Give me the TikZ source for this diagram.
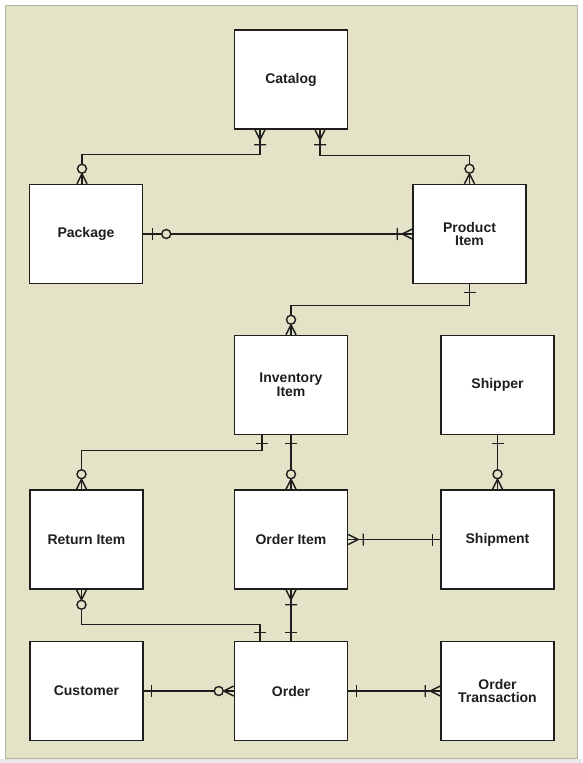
\documentclass[tikz,border=0pt]{standalone}
\usepackage{fontspec}
\setmainfont{Liberation Sans}
\usetikzlibrary{positioning}
\definecolor{khaki}{HTML}{E4E3C8}
\definecolor{framegray}{HTML}{B4B3A2}
\definecolor{stripgray}{HTML}{E8E8E8}
\definecolor{ink}{HTML}{1E1E1E}

\begin{document}
\begin{tikzpicture}[
  x=1pt, y=1pt,
  font=\fontsize{14}{12.5}\selectfont\bfseries,
  entity/.style={draw=ink, fill=white, line width=1.5pt, minimum width=113pt, minimum height=99pt, inner sep=0pt, align=center, text=ink},
  rel/.style={draw=ink, line width=1.4pt},
  % relationship ends, drawn with the box edge at the origin and the line coming in along +x
  endone/.pic={\draw[rel] (-8,-6) -- (-8,6);},
  endzeroone/.pic={\draw[rel] (-9,-6) -- (-9,6); \draw[rel, fill=khaki] (-23,0) circle (4.5pt);},
  endonemany/.pic={\draw[rel] (-10,0) -- (0,5) (-10,0) -- (0,-5) (-15,-6) -- (-15,6);},
  endzeromany/.pic={\draw[rel] (-10,0) -- (0,5) (-10,0) -- (0,-5); \draw[rel, fill=khaki] (-15,0) circle (4.5pt);},
]

\useasboundingbox (0,0) rectangle (582,-763);
\fill[white] (0,0) rectangle (582,-763);
\fill[stripgray] (0,-759) rectangle (582,-763);
\draw[framegray, fill=khaki, line width=0.8pt] (5,-5) rectangle (577,-758);

\node[entity] (catalog) at (291,-79.5) {Catalog};
\node[entity, below left=54pt and 90.5pt of catalog] (package) {Package};
\node[entity, below right=54pt and 64pt of catalog] (product) {Product\\Item};
\node[entity, below=205pt of catalog] (inventory) {Inventory\\Item};
\node[entity, right=92pt of inventory] (shipper) {Shipper};
\node[entity, below=54pt of inventory] (orderitem) {Order Item};
\node[entity, left=90pt of orderitem] (returnitem) {Return Item};
\node[entity, right=92pt of orderitem] (shipment) {Shipment};
\node[entity, below=51pt of orderitem] (order) {Order};
\node[entity, left=90pt of order] (customer) {Customer};
\node[entity, right=92pt of order] (transaction) {Order\\Transaction};

% catalog
\draw[rel] ([xshift=-31pt]catalog.south) -- ++(0,-25) -| ([xshift=-4pt]package.north);
\pic[rotate=90] at ([xshift=-31pt]catalog.south) {endonemany};
\pic[rotate=-90] at ([xshift=-4pt]package.north) {endzeromany};
\draw[rel] ([xshift=29pt]catalog.south) -- ++(0,-26) -| (product.north);
\pic[rotate=90] at ([xshift=29pt]catalog.south) {endonemany};
\pic[rotate=-90] at (product.north) {endzeromany};

% package / product
\draw[rel] (package.east) -- (product.west);
\pic[rotate=180] at (package.east) {endzeroone};
\pic at (product.west) {endonemany};
\draw[rel] (product.south) -- ++(0,-21) -| (inventory.north);
\pic[rotate=90] at (product.south) {endone};
\pic[rotate=-90] at (inventory.north) {endzeromany};

% inventory
\draw[rel] ([xshift=-29pt]inventory.south) -- ++(0,-15) -| ([xshift=-5pt]returnitem.north);
\pic[rotate=90] at ([xshift=-29pt]inventory.south) {endone};
\pic[rotate=-90] at ([xshift=-5pt]returnitem.north) {endzeromany};
\draw[rel] (inventory.south) -- (orderitem.north);
\pic[rotate=90] at (inventory.south) {endone};
\pic[rotate=-90] at (orderitem.north) {endzeromany};
\draw[rel] (shipper.south) -- (shipment.north);
\pic[rotate=90] at (shipper.south) {endone};
\pic[rotate=-90] at (shipment.north) {endzeromany};

% order item
\draw[rel] (orderitem.east) -- (shipment.west);
\pic[rotate=180] at (orderitem.east) {endonemany};
\pic at (shipment.west) {endone};
\draw[rel] ([xshift=-5pt]returnitem.south) -- ++(0,-34.5) -| ([xshift=-31pt]order.north);
\pic[rotate=90] at ([xshift=-5pt]returnitem.south) {endzeromany};
\pic[rotate=-90] at ([xshift=-31pt]order.north) {endone};
\draw[rel] (orderitem.south) -- (order.north);
\pic[rotate=90] at (orderitem.south) {endonemany};
\pic[rotate=-90] at (order.north) {endone};

% order
\draw[rel] (customer.east) -- (order.west);
\pic[rotate=180] at (customer.east) {endone};
\pic at (order.west) {endzeromany};
\draw[rel] (order.east) -- (transaction.west);
\pic[rotate=180] at (order.east) {endone};
\pic at (transaction.west) {endonemany};
\end{tikzpicture}
\end{document}
